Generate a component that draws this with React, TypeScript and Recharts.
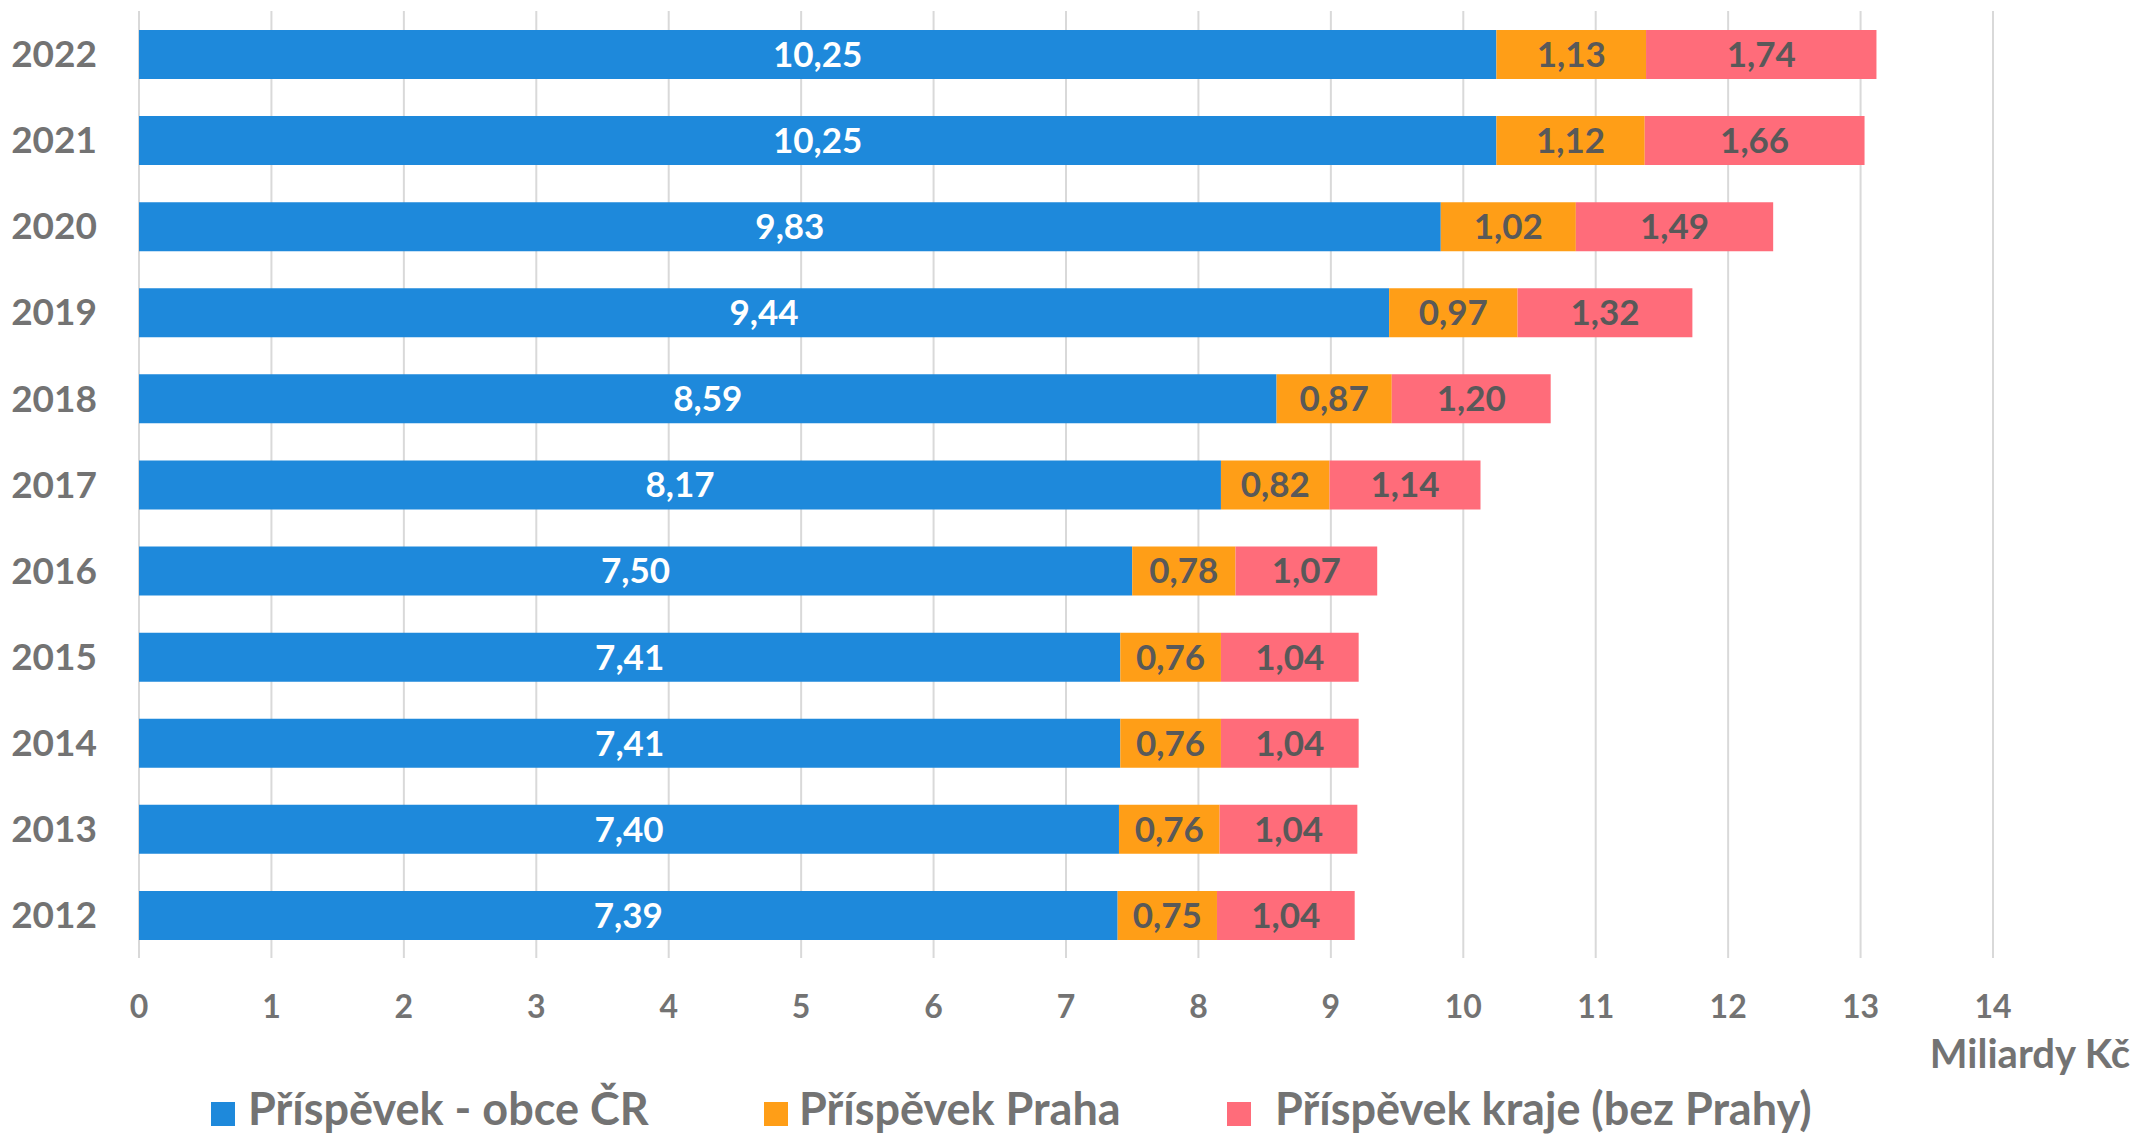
import { Bar, BarChart, CartesianGrid, LabelList, XAxis, YAxis } from 'recharts'

const years = ['2022', '2021', '2020', '2019', '2018', '2017', '2016', '2015', '2014', '2013', '2012']
const obceCR = [10.25, 10.25, 9.83, 9.44, 8.59, 8.17, 7.5, 7.41, 7.41, 7.4, 7.39]
const praha = [1.13, 1.12, 1.02, 0.97, 0.87, 0.82, 0.78, 0.76, 0.76, 0.76, 0.75]
const kraje = [1.74, 1.66, 1.49, 1.32, 1.2, 1.14, 1.07, 1.04, 1.04, 1.04, 1.04]
const xTicks = [0, 1, 2, 3, 4, 5, 6, 7, 8, 9, 10, 11, 12, 13, 14]

const series = [
  { key: 'obce', name: 'Příspěvek - obce ČR', color: '#1e89db', label: '#ffffff' },
  { key: 'praha', name: 'Příspěvek Praha', color: '#ff9e17', label: '#595959' },
  { key: 'kraje', name: 'Příspěvek kraje (bez Prahy)', color: '#ff6c7a', label: '#595959' },
]

const data = years.map((year, i) => ({ year, obce: obceCR[i], praha: praha[i], kraje: kraje[i] }))

const font = 'Lato, "Open Sans", sans-serif'
const fmt = (v: any) => Number(v).toFixed(2).replace('.', ',')

const legendPos = [
  { square: 211, text: 248 },
  { square: 764, text: 799 },
  { square: 1227, text: 1275 },
]

function AxisTitle({ viewBox }: any) {
  return (
    <text
      x={viewBox.x + viewBox.width + 137}
      y={1068}
      textAnchor="end"
      fill="#737373"
      fontSize={40}
      fontWeight={700}
      fontFamily={font}
    >
      Miliardy Kč
    </text>
  )
}

export default function App() {
  return (
    <div style={{ position: 'absolute', left: 0, top: 0, width: 2138, height: 1136, background: '#fff', fontFamily: font }}>
      <BarChart
        width={2138}
        height={1136}
        data={data}
        layout="vertical"
        margin={{ top: 11, right: 145, left: 0, bottom: 118 }}
        barSize={49}
      >
        <CartesianGrid horizontal={false} stroke="#d9d9d9" strokeWidth={2} />
        <XAxis
          type="number"
          domain={[0, 14]}
          ticks={xTicks}
          interval={0}
          axisLine={false}
          tickLine={false}
          tickSize={0}
          tickMargin={37}
          height={60}
          tick={{ fill: '#737373', fontSize: 32, fontWeight: 700, fontFamily: font }}
          label={<AxisTitle />}
        />
        <YAxis
          type="category"
          dataKey="year"
          width={139}
          axisLine={false}
          tickLine={false}
          tickSize={0}
          tickMargin={42}
          tick={{ fill: '#737373', fontSize: 37, fontWeight: 700, fontFamily: font }}
        />
        {series.map((s) => (
          <Bar key={s.key} dataKey={s.key} name={s.name} stackId="a" fill={s.color} isAnimationActive={false}>
            <LabelList
              dataKey={s.key}
              position="center"
              formatter={fmt}
              fill={s.label}
              fontSize={35}
              fontWeight={700}
              fontFamily={font}
            />
          </Bar>
        ))}
      </BarChart>
      {series.map((s, i) => (
        <div key={s.key}>
          <div
            style={{
              position: 'absolute',
              left: legendPos[i].square,
              top: 1102,
              width: 24,
              height: 24,
              background: s.color,
            }}
          />
          <div
            style={{
              position: 'absolute',
              left: legendPos[i].text,
              top: 1081,
              lineHeight: 1.2,
              fontSize: 45,
              fontWeight: 700,
              color: '#737373',
              whiteSpace: 'nowrap',
            }}
          >
            {s.name}
          </div>
        </div>
      ))}
    </div>
  )
}
